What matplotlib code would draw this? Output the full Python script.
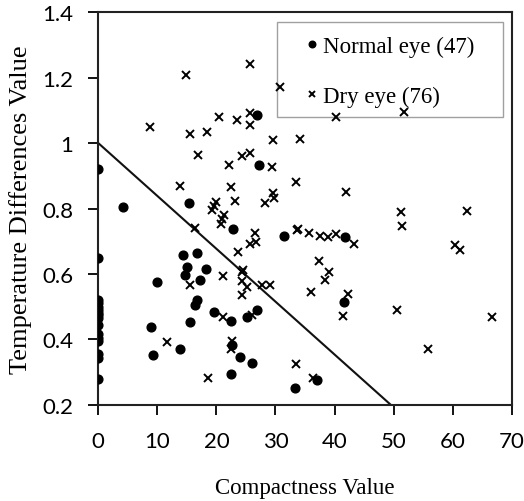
import matplotlib
matplotlib.use("Agg")
import matplotlib.pyplot as plt
from matplotlib.patches import Rectangle

# normal eye (dots)
normal_x = [0, 0, 0, 0, 0, 0, 0, 0, 0, 0, 0, 0, 0, 0, 0, 0,
            4.2, 15.4, 26.9, 27.2, 22.8, 31.5, 41.8, 41.6, 37.0, 33.3,
            10.0, 8.9, 9.2, 13.8, 14.3, 15.0, 14.7, 16.7, 18.2, 17.3,
            16.7, 16.3, 15.6, 19.6, 22.4, 22.7, 24.0, 26.0, 22.5, 25.2, 26.9]
normal_y = [0.92, 0.65, 0.52, 0.51, 0.50, 0.49, 0.48, 0.475, 0.465, 0.445, 0.415,
            0.405, 0.395, 0.355, 0.343, 0.28,
            0.805, 0.816, 1.087, 0.932, 0.736, 0.717, 0.714, 0.513, 0.275, 0.252,
            0.575, 0.437, 0.351, 0.371, 0.658, 0.622, 0.597, 0.664, 0.615, 0.582,
            0.521, 0.504, 0.452, 0.485, 0.455, 0.383, 0.345, 0.327, 0.294, 0.467, 0.490]

# dry eye (crosses)
dry_x = [14.8, 25.7, 30.8, 8.75, 15.5, 18.4, 20.5, 23.5, 25.7, 25.7, 29.6,
         16.8, 24.4, 25.7, 22.1, 29.4, 13.9, 22.4, 23.1, 29.6, 29.8, 28.3,
         19.9, 19.6, 19.2, 21.2, 21.0, 20.7, 16.3, 26.5, 33.5, 33.6, 33.8,
         25.7, 26.7, 23.7, 21.1, 24.3, 24.5, 24.3, 25.1, 24.3, 27.7, 29.0,
         15.5, 21.1, 26.1, 11.7, 22.7, 22.4, 18.5, 33.4, 40.2, 51.8, 34.2,
         41.9, 51.2, 62.5, 51.5, 35.7, 37.5, 38.9, 40.2, 43.3, 60.4, 61.2,
         37.4, 39.1, 38.3, 36.0, 42.3, 50.6, 41.5, 66.6, 55.8, 36.3]
dry_y = [1.209, 1.242, 1.173, 1.049, 1.029, 1.034, 1.080, 1.070, 1.093, 1.054, 1.011,
         0.965, 0.961, 0.971, 0.932, 0.927, 0.870, 0.866, 0.824, 0.846, 0.833, 0.816,
         0.819, 0.808, 0.795, 0.780, 0.768, 0.752, 0.739, 0.724, 0.880, 0.734, 0.737,
         0.690, 0.697, 0.666, 0.595, 0.607, 0.612, 0.577, 0.559, 0.534, 0.565, 0.566,
         0.565, 0.467, 0.473, 0.392, 0.396, 0.370, 0.282, 0.323, 1.080, 1.095, 1.014,
         0.849, 0.790, 0.793, 0.748, 0.724, 0.717, 0.712, 0.722, 0.690, 0.687, 0.673,
         0.638, 0.607, 0.582, 0.544, 0.538, 0.490, 0.470, 0.467, 0.371, 0.282]

# separating line
line_x = [0, 49.5]
line_y = [1.0, 0.2]

serif = "Liberation Serif"
fig = plt.figure(figsize=(5.24, 5.02), dpi=100)
ax = fig.add_axes([0.1876, 0.1918, 0.789, 0.7817])

ax.plot(line_x, line_y, color="#111111", lw=1.5, zorder=1)
ax.plot(normal_x, normal_y, "o", color="black", ms=6.3, label="Normal eye (47)", zorder=3)
ax.plot(dry_x, dry_y, "x", color="black", ms=5.2, mew=1.4, label="Dry eye (76)", zorder=3)

ax.set_xlim(0, 70)
ax.set_ylim(0.2, 1.4)
ax.set_xticks(range(0, 71, 10))
ax.set_yticks([0.2, 0.4, 0.6, 0.8, 1.0, 1.2, 1.4])
ax.set_yticklabels(["0.2", "0.4", "0.6", "0.8", "1", "1.2", "1.4"])
ax.tick_params(direction="out", length=7, width=1.3, labelsize=16, colors="black")
ax.tick_params(axis="x", pad=12)
ax.tick_params(axis="y", pad=11)
for lab in ax.get_xticklabels() + ax.get_yticklabels():
    lab.set_family("Lato")
for s in ax.spines.values():
    s.set_linewidth(1.5)
    s.set_color("#222222")

ax.set_xlabel("Compactness Value", family=serif, fontsize=16.5, labelpad=19)
ax.set_ylabel("Temperature Differences Value", family=serif, fontsize=19, labelpad=7)

# legend box drawn under the points, entries on top
ax.add_patch(Rectangle((0.433, 0.734), 0.545, 0.242, transform=ax.transAxes,
                       facecolor="white", edgecolor="#a0a0a0", lw=1.0, zorder=0.5))
leg = ax.legend(loc="upper left", bbox_to_anchor=(0.4995, 0.94), prop={"family": serif, "size": 16.5},
                frameon=False, handlelength=0.6, handletextpad=0.2, labelspacing=1.27,
                borderpad=0, borderaxespad=0, markerscale=0.75)
leg.set_zorder(4)

fig.savefig("out.png", dpi=100)
